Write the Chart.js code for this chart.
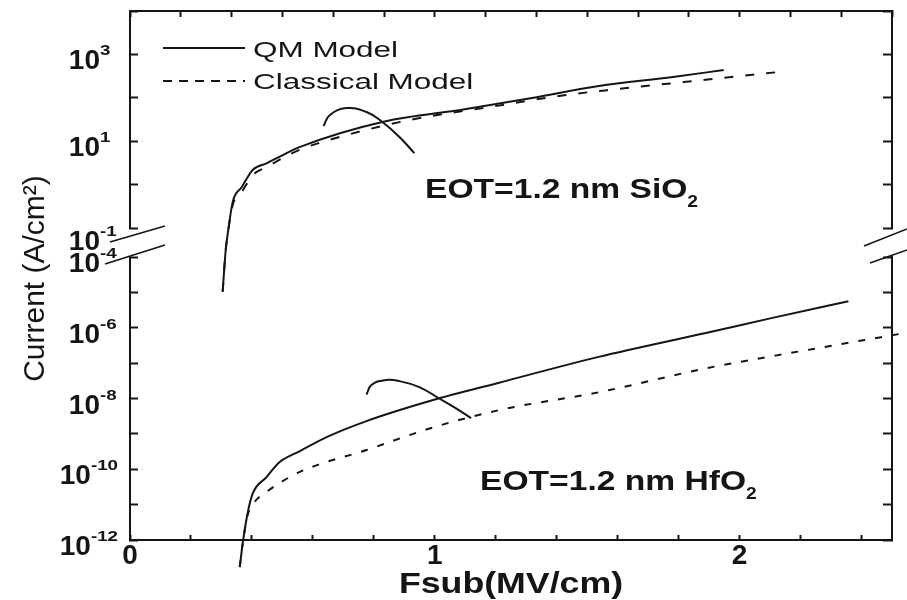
<!DOCTYPE html>
<html>
<head>
<meta charset="utf-8">
<title>Current vs Fsub - QM and classical models</title>
<script src="https://cdn.jsdelivr.net/npm/chart.js@4.4.1/dist/chart.umd.min.js"></script>
<style>
  html, body { margin: 0; padding: 0; background: #fff; }
  #wrap { width: 907px; height: 600px; }
</style>
</head>
<body>
<div id="wrap"><canvas id="chart" width="907" height="600"></canvas></div>
<script>
// ---- values (Fsub in MV/cm, current in A/cm^2) ----
const siQmField = [0.304, 0.314, 0.321, 0.337, 0.367, 0.403, 0.448, 0.501, 0.556, 0.828, 1.103, 1.319, 1.538, 1.781, 1.948];
const siQmCurrent = [0.0034, 0.031, 0.076, 0.40, 0.88, 2.2, 3.1, 4.8, 7.3, 27.7, 55, 99, 187, 301, 437];

const siClField = [0.304, 0.314, 0.321, 0.337, 0.367, 0.403, 0.448, 0.556, 0.664, 0.917, 1.178, 1.430, 1.604, 1.944, 2.128];
const siClCurrent = [0.0034, 0.031, 0.076, 0.34, 0.68, 1.66, 2.55, 6.3, 11.2, 30.8, 61, 116, 160, 286, 393];

const hfQmField = [0.360, 0.370, 0.386, 0.403, 0.448, 0.491, 0.556, 0.645, 0.776, 0.992, 1.211, 1.538, 1.889, 2.108, 2.357];
const hfQmCurrent = [1.7e-13, 8.3e-13, 5.8e-12, 2.1e-11, 6.0e-11, 1.6e-10, 3.2e-10, 8.1e-10, 2.3e-9, 8.9e-9, 2.8e-8, 1.5e-7, 7.1e-7, 1.9e-6, 5.6e-6];

const hfClField = [0.360, 0.370, 0.386, 0.409, 0.448, 0.556, 0.776, 0.992, 1.211, 1.538, 1.889, 2.216, 2.543];
const hfClCurrent = [1.7e-13, 8.3e-13, 5.1e-12, 1.2e-11, 2.3e-11, 8.3e-11, 3.5e-10, 1.5e-9, 4.7e-9, 1.5e-8, 7.1e-8, 2.3e-7, 7.1e-7];

// curved markers tying each QM / classical pair together
const siArcField = [0.635, 0.655, 0.710, 0.776, 0.828, 0.884, 0.933];
const siArcCurrent = [22.4, 39.8, 58, 47, 27.7, 12.5, 5.3];
const hfArcField = [0.776, 0.792, 0.835, 0.884, 0.949, 1.015, 1.071, 1.119];
const hfArcCurrent = [1.3e-8, 2.4e-8, 3.3e-8, 3.1e-8, 2.1e-8, 1.0e-8, 5.2e-9, 2.8e-9];

// axes
const xTicks = [0, 0.2, 0.4, 0.6, 0.8, 1, 1.2, 1.4, 1.6, 1.8, 2, 2.2, 2.4];
const xTickLabels = ['0', '', '', '', '', '1', '', '', '', '', '2', '', ''];
const upperTicks = [0.1, 1, 10, 100, 1000, 10000];
const upperTickExp = ['-1', '', '1', '', '3', ''];
const lowerTicks = [1e-12, 1e-11, 1e-10, 1e-9, 1e-8, 1e-7, 1e-6, 1e-5, 1e-4];
const lowerTickExp = ['-12', '', '-10', '', '-8', '', '-6', '', '-4'];

const seriesNames = ['QM Model', 'Classical Model'];
const oxideLabels = ['EOT=1.2 nm SiO', 'EOT=1.2 nm HfO'];
const xTitle = 'Fsub(MV/cm)';
const yTitle = 'Current (A/cm\u00b2)';

// ---- styling ----
const FONT = "'Liberation Sans', Arial, Helvetica, sans-serif";
const ink = '#151515';
const border = { display: true, color: ink, width: 2 };

function toPoints(xs, ys) {
  return xs.map((x, i) => ({ x: x, y: ys[i] }));
}

function tickGrid(len) {
  return { display: true, drawOnChartArea: false, drawTicks: true, tickLength: len, tickWidth: 2, tickColor: ink };
}

// draws text with a horizontal stretch (the scan is wider than the fonts)
function drawText(ctx, text, x, y, font, align, sx) {
  ctx.save();
  ctx.font = font;
  ctx.textBaseline = 'alphabetic';
  ctx.textAlign = 'left';
  const w = ctx.measureText(text).width * sx;
  let left = x;
  if (align === 'right') left = x - w;
  else if (align === 'center') left = x - w / 2;
  ctx.translate(left, y);
  ctx.scale(sx, 1);
  ctx.fillStyle = ink;
  ctx.fillText(text, 0, 0);
  ctx.restore();
  return left + w;
}

function drawPowerLabels(ctx, scale, values, exps, area) {
  const tenFont = 'bold 28px ' + FONT;
  const supFont = 'bold 15px ' + FONT;
  values.forEach((v, i) => {
    if (!exps[i]) return;
    const py = scale.getPixelForValue(v);
    ctx.font = supFont;
    const supW = ctx.measureText(exps[i]).width * 1.25;
    const tenRight = Math.min(area.left - 30, area.left - 12 - supW);
    // the lowest label of the upper panel sits a bit lower, next to the break
    const nudge = (scale.id === 'yTop' && i === 0) ? 7 : 0;
    drawText(ctx, '10', tenRight, py + 15 + nudge, tenFont, 'right', 1);
    drawText(ctx, exps[i], tenRight, py + 1 + nudge, supFont, 'left', 1.25);
  });
}

function line(ctx, x1, y1, x2, y2) {
  ctx.beginPath();
  ctx.moveTo(x1, y1);
  ctx.lineTo(x2, y2);
  ctx.stroke();
}

const decorPlugin = {
  id: 'decor',
  afterDraw(chart) {
    const ctx = chart.ctx;
    const area = chart.chartArea;
    const yTop = chart.scales.yTop;
    const yBot = chart.scales.yBot;

    drawPowerLabels(ctx, yTop, upperTicks, upperTickExp, area);
    drawPowerLabels(ctx, yBot, lowerTicks, lowerTickExp, area);

    // axis titles
    ctx.save();
    ctx.translate(44, (area.top + area.bottom) / 2 + 3);
    ctx.rotate(-Math.PI / 2);
    ctx.font = '30px ' + FONT;
    ctx.textAlign = 'center';
    ctx.textBaseline = 'alphabetic';
    ctx.fillStyle = ink;
    ctx.fillText(yTitle, 0, 0);
    ctx.restore();
    drawText(ctx, xTitle, (area.left + area.right) / 2, area.bottom + 53, 'bold 30px ' + FONT, 'center', 1.19);

    // oxide annotations with subscript 2
    let end = drawText(ctx, oxideLabels[0], area.left + 295, area.top + 187, 'bold 28px ' + FONT, 'left', 1.2);
    drawText(ctx, '2', end, area.top + 196, 'bold 16px ' + FONT, 'left', 1.2);
    end = drawText(ctx, oxideLabels[1], area.left + 350, area.bottom - 50, 'bold 28px ' + FONT, 'left', 1.2);
    drawText(ctx, '2', end, area.bottom - 41, 'bold 16px ' + FONT, 'left', 1.2);

    // legend
    ctx.save();
    ctx.strokeStyle = ink;
    ctx.lineWidth = 2;
    line(ctx, area.left + 33, area.top + 37, area.left + 115, area.top + 37);
    ctx.setLineDash([9, 7]);
    line(ctx, area.left + 33, area.top + 70, area.left + 115, area.top + 70);
    ctx.restore();
    drawText(ctx, seriesNames[0], area.left + 123, area.top + 46, '22px ' + FONT, 'left', 1.43);
    drawText(ctx, seriesNames[1], area.left + 123, area.top + 78, '22px ' + FONT, 'left', 1.43);

    // axis break marks
    ctx.save();
    ctx.strokeStyle = ink;
    ctx.lineWidth = 1.6;
    line(ctx, area.left - 20, yTop.bottom + 14, area.left + 35, yTop.bottom - 2);
    line(ctx, area.left - 25, yBot.top + 7, area.left + 35, yBot.top - 12);
    line(ctx, area.right - 28, yTop.bottom + 18, area.right + 15, yTop.bottom + 1);
    line(ctx, area.right - 22, yBot.top + 6, area.right + 15, yBot.top - 7);
    ctx.restore();
  }
};

const lineStyle = {
  borderColor: ink,
  borderWidth: 2,
  pointRadius: 0,
  fill: false,
  cubicInterpolationMode: 'monotone',
  clip: false,
  xAxisID: 'x'
};

// the pair markers are round hooks, a plain bezier suits them better
const arcStyle = {
  ...lineStyle,
  cubicInterpolationMode: 'default',
  tension: 0.45
};

function logAxis(position, stack, weight, stackWeight, min, max, ticks, width) {
  return {
    type: 'logarithmic',
    position: position,
    stack: stack,
    weight: weight,
    stackWeight: stackWeight,
    min: min,
    max: max,
    afterBuildTicks: s => { s.ticks = ticks.map(v => ({ value: v })); },
    afterFit: s => { s.width = width; },
    ticks: { display: false },
    grid: tickGrid(position === 'left' ? -8 : -9),
    border: border
  };
}

function gapAxis(position, stack, weight, width) {
  return {
    type: 'linear',
    position: position,
    stack: stack,
    weight: weight,
    stackWeight: 29,
    afterFit: s => { s.width = width; },
    ticks: { display: false },
    grid: { display: false },
    border: { display: false }
  };
}

new Chart(document.getElementById('chart'), {
  type: 'line',
  data: {
    datasets: [
      { label: seriesNames[0], data: toPoints(siQmField, siQmCurrent), yAxisID: 'yTop', ...lineStyle },
      { label: seriesNames[1], data: toPoints(siClField, siClCurrent), yAxisID: 'yTop', borderDash: [9, 12], ...lineStyle },
      { label: seriesNames[0], data: toPoints(hfQmField, hfQmCurrent), yAxisID: 'yBot', ...lineStyle },
      { label: seriesNames[1], data: toPoints(hfClField, hfClCurrent), yAxisID: 'yBot', borderDash: [7, 10], ...lineStyle },
      { label: 'SiO2 pair', data: toPoints(siArcField, siArcCurrent), yAxisID: 'yTop', ...arcStyle },
      { label: 'HfO2 pair', data: toPoints(hfArcField, hfArcCurrent), yAxisID: 'yBot', ...arcStyle }
    ]
  },
  options: {
    responsive: false,
    animation: false,
    layout: { padding: 0 },
    plugins: {
      legend: { display: false },
      tooltip: { enabled: false }
    },
    scales: {
      x: {
        type: 'linear',
        position: 'bottom',
        min: 0,
        max: 2.5,
        afterBuildTicks: s => { s.ticks = xTicks.map(v => ({ value: v })); },
        afterFit: s => { s.height = 60; },
        grid: tickGrid(-5),
        border: border,
        ticks: {
          autoSkip: false,
          maxRotation: 0,
          padding: 4,
          color: ink,
          font: { family: FONT, size: 28, weight: 'bold', lineHeight: 1.2 },
          callback: (value, index) => xTickLabels[index]
        }
      },
      xTop: {
        type: 'linear',
        position: 'top',
        min: 0,
        max: 15,
        afterFit: s => { s.height = 11; },
        ticks: { display: false, stepSize: 1 },
        grid: tickGrid(-6),
        border: border
      },
      // left side: upper panel, break, lower panel (higher weight is placed first)
      yTop: logAxis('left', 'left', 3, 217, 0.1, 1e4, upperTicks, 130),
      yGap: gapAxis('left', 'left', 2, 130),
      yBot: logAxis('left', 'left', 1, 283, 1e-12, 1e-4, lowerTicks, 130),
      // right side mirrors (lower weight is placed first)
      yTopR: logAxis('right', 'right', 1, 217, 0.1, 1e4, upperTicks, 15),
      yGapR: gapAxis('right', 'right', 2, 15),
      yBotR: logAxis('right', 'right', 3, 283, 1e-12, 1e-4, lowerTicks, 15)
    }
  },
  plugins: [decorPlugin]
});
</script>
</body>
</html>
